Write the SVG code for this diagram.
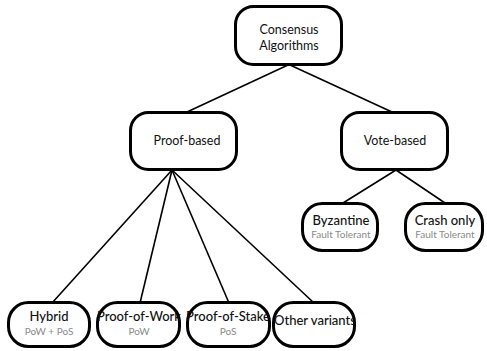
<svg xmlns="http://www.w3.org/2000/svg" width="487" height="351" viewBox="0 0 487 351">
<style>
.box{fill:#fff;stroke:#000;stroke-width:3}
.edge{stroke:#000;stroke-width:1.6;fill:none}
.t{font-family:Lato,"Open Sans","Liberation Sans",sans-serif;fill:#111;text-anchor:middle}
.m{font-size:12.5px}
.b{font-size:13px;font-weight:500}
.s{font-size:10px;fill:#8a8a8a}
</style>
<rect width="487" height="351" fill="#fff"/>
<g id="connectors">
<line class="edge" x1="288" y1="65" x2="187" y2="112"/>
<line class="edge" x1="290" y1="65" x2="392" y2="112"/>
<line class="edge" x1="172" y1="170" x2="52" y2="303"/>
<line class="edge" x1="172" y1="170" x2="140" y2="303"/>
<line class="edge" x1="172" y1="170" x2="229" y2="303"/>
<line class="edge" x1="172" y1="170" x2="314" y2="303"/>
<line class="edge" x1="396" y1="170" x2="343" y2="203"/>
<line class="edge" x1="396" y1="170" x2="445" y2="203"/>
</g>
<g id="consensus">
<rect class="box" x="235.5" y="6.5" width="106" height="58" rx="18"/>
<text class="t m" x="289" y="34">Consensus</text>
<text class="t m" x="289" y="50">Algorithms</text>
</g>
<g id="proof-based">
<rect class="box" x="130.5" y="112.5" width="106" height="57" rx="18"/>
<text class="t m" x="187" y="145">Proof-based</text>
</g>
<g id="vote-based">
<rect class="box" x="341.5" y="112.5" width="106" height="57" rx="18"/>
<text class="t m" x="395" y="145">Vote-based</text>
</g>
<g id="byzantine">
<rect class="box" x="302.5" y="203.5" width="75" height="47" rx="20"/>
<text class="t b" x="341" y="225">Byzantine</text>
<text class="t s" x="341" y="238">Fault Tolerant</text>
</g>
<g id="crash-only">
<rect class="box" x="405.5" y="203.5" width="77" height="47" rx="20"/>
<text class="t b" x="445" y="225">Crash only</text>
<text class="t s" x="445" y="238">Fault Tolerant</text>
</g>
<g id="hybrid">
<rect class="box" x="8.5" y="302.5" width="81" height="44" rx="20"/>
<text class="t b" x="49" y="321">Hybrid</text>
<text class="t s" x="49" y="335">PoW + PoS</text>
</g>
<g id="pow">
<rect class="box" x="97.5" y="302.5" width="82" height="44" rx="20"/>
<text class="t b" x="139" y="321">Proof-of-Work</text>
<text class="t s" x="139" y="335">PoW</text>
</g>
<g id="pos">
<rect class="box" x="187.5" y="302.5" width="82" height="44" rx="20"/>
<text class="t b" x="228" y="321">Proof-of-Stake</text>
<text class="t s" x="228" y="335">PoS</text>
</g>
<g id="other">
<rect class="box" x="273.5" y="302.5" width="81" height="44" rx="20"/>
<text class="t b" x="315" y="325">Other variants</text>
</g>
</svg>
